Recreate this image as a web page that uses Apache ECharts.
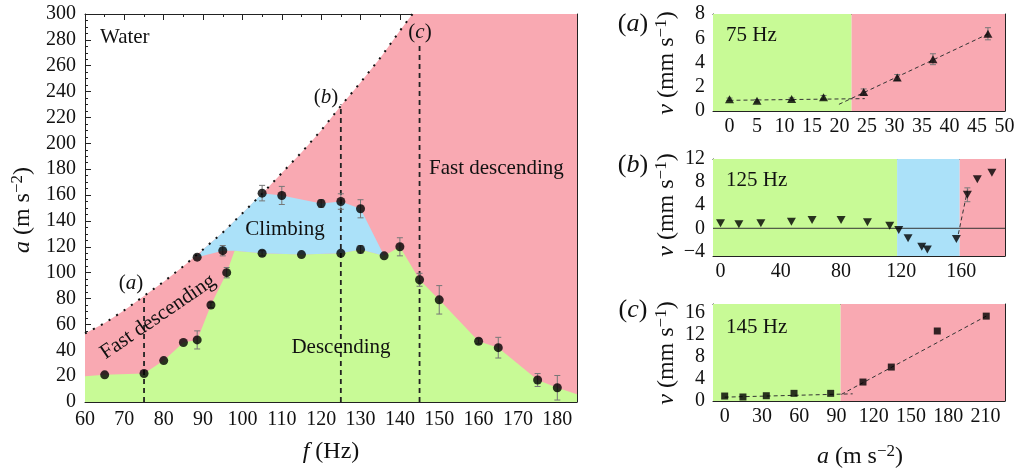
<!DOCTYPE html>
<html><head><meta charset="utf-8">
<script src="https://cdn.jsdelivr.net/npm/echarts@6/dist/echarts.min.js"></script>
<style>html,body{margin:0;padding:0;background:#fff}#c{width:1020px;height:472px}</style>
</head><body><div id="c"></div>
<script>
// ===== Main plot: regime map =====
const waterF = [60, 65, 70, 75, 80, 85, 90, 95, 100, 105, 110, 115, 120, 125, 130, 135, 140, 143.2];
const waterA = [53, 61, 71, 82, 93, 105, 118, 131, 146, 161, 177, 193, 210, 229, 247, 266, 287, 300];
const greenF = [60, 65, 75, 80, 85, 88.5, 92, 96, 98, 105, 115, 125, 130, 136, 140, 145, 150, 160, 165, 175, 180, 185];
const greenA = [20, 21, 22, 32, 46, 48, 75, 100, 117, 115, 114, 115, 118, 113, 120, 94.5, 79, 47, 42, 17, 11, 6];
const blueF = [88.5, 95, 98, 105, 115, 125, 130, 136, 130, 125, 120, 110, 105, 100, 95, 90];
const blueA = [112, 117, 117, 115, 114, 115, 118, 113, 149.4, 155, 153.5, 159.7, 161.5, 146, 131, 118];
const ptsF = [65, 75, 80, 85, 88.5, 92, 96, 105, 115, 125, 130, 136, 140, 145, 150, 160, 165, 175, 180, 88.5, 95, 105, 110, 120, 125, 130];
const ptsA = [21, 22, 32, 46, 48, 75, 100, 115, 114, 115, 118, 113, 120, 94.5, 79, 47, 42, 17, 11, 112, 117, 161.5, 159.7, 153.5, 155, 149.4];
const ptsErr = [0, 0, 0, 0, 7, 2, 4, 2, 0, 0, 3, 0, 7, 5, 11, 2, 8, 5, 9.5, 0, 4, 6, 7, 3, 6, 7];
const cutF = [75, 125, 145];
const cutTop = [82, 230, 276];
const mainXRange = [60, 185];
const mainYRange = [0, 300];
const mainXTicks = [60, 70, 80, 90, 100, 110, 120, 130, 140, 150, 160, 170, 180];
const mainYTicks = [0, 20, 40, 60, 80, 100, 120, 140, 160, 180, 200, 220, 240, 260, 280, 300];

// ===== (a) 75 Hz =====
const aX = [0, 5, 11.3, 17.1, 24.4, 30.5, 37, 47];
const aV = [0.97, 0.85, 0.98, 1.13, 1.57, 2.76, 4.27, 6.37];
const aErr = [0.1, 0.1, 0.1, 0.15, 0.25, 0.25, 0.45, 0.5];
const aFit1 = [[0, 0.88], [24.6, 1.02]];
const aFit2 = [[19.9, 0.55], [47, 6.35]];
const aBound = 22.2;
const aXRange = [-3, 50.1], aYRange = [0, 8];
const aXTicks = [0, 5, 10, 15, 20, 25, 30, 35, 40, 45, 50];
const aYTicks = [0, 2, 4, 6, 8];

// ===== (b) 125 Hz =====
const bX = [0, 12.2, 26.8, 47.1, 60.8, 80.1, 97.6, 112.4, 118.4, 124.6, 133.7, 137.4, 156.7, 164, 170.6, 180.3];
const bV = [0.87, 0.7, 0.87, 1.15, 1.44, 1.44, 1.04, 0.46, -0.3, -1.74, -3.2, -3.66, -1.86, 5.8, 8.5, 9.6];
const bErr = [0, 0, 0, 0, 0, 0, 0, 0, 0, 0, 0, 0, 0, 1.2, 0, 0];
const bFit = [[158, -1.0], [164.4, 7.0]];
const bBound1 = 117.3, bBound2 = 158.9;
const bXRange = [-5, 189], bYRange = [-4.8, 12];
const bXTicks = [0, 40, 80, 120, 160];
const bYTicks = [-4, 0, 4, 8, 12];

// ===== (c) 145 Hz =====
const cX = [0, 14.7, 33.5, 55.8, 85.3, 111.3, 134.1, 171.1, 210.5];
const cV = [0.9, 0.73, 0.96, 1.39, 1.39, 3.44, 6.16, 12.7, 15.4];
const cFit1 = [[0, 0.7], [103, 1.3]];
const cFit2 = [[93.9, 1.2], [210.5, 15.4]];
const cBound = 93.3;
const cXRange = [-9.4, 225.6], cYRange = [0, 17.6];
const cXTicks = [0, 30, 60, 90, 120, 150, 180, 210];
const cYTicks = [0, 4, 8, 12, 16];

const PINK = '#F9A9B2', GREEN = '#C8FA96', BLUE = '#ABE1F9';
const FONT = 'Liberation Serif';

function minorsOf(range, step) {
  const out = [];
  const s = Math.ceil(range[0] / step - 1e-9);
  for (let k = s; k * step <= range[1] + 1e-9; k++) out.push(+(k * step).toFixed(6));
  return out;
}

const xAxes = [], yAxes = [];
function addAxes(grid, dim, range, majors, minorStep, margin) {
  const list = dim === 'x' ? xAxes : yAxes;
  const pos = dim === 'x' ? ['bottom', 'top'] : ['left', 'right'];
  const primary = list.length;
  const minors = minorsOf(range, minorStep);
  pos.forEach((p, i) => {
    list.push({
      type: 'value', gridIndex: grid, position: p, min: range[0], max: range[1],
      axisLine: { show: true, onZero: false, lineStyle: { color: '#222', width: 1 } },
      axisTick: { show: true, inside: true, length: 6, customValues: majors, lineStyle: { color: '#222', width: 1 } },
      axisLabel: { show: i === 0, customValues: majors, margin: margin, fontFamily: FONT, fontSize: 20, color: '#111',
        formatter: v => (v < 0 ? '\u2212' + Math.abs(v) : String(v)) },
      splitLine: { show: false }
    });
    list.push({
      type: 'value', gridIndex: grid, position: p, min: range[0], max: range[1],
      axisLine: { show: false, onZero: false },
      axisTick: { show: true, inside: true, length: 3, customValues: minors, lineStyle: { color: '#222', width: 1 } },
      axisLabel: { show: false }, splitLine: { show: false }
    });
  });
  return primary;
}

const grids = [
  { left: 85, top: 14, width: 492, height: 388 },
  { left: 713, top: 14, width: 292, height: 97 },
  { left: 713, top: 159, width: 292, height: 97 },
  { left: 713, top: 304, width: 292, height: 97 }
];

const mX = addAxes(0, 'x', mainXRange, mainXTicks, 5, 8);
const mY = addAxes(0, 'y', mainYRange, mainYTicks, 5, 9);
const axX = addAxes(1, 'x', aXRange, aXTicks, 1, 6);
const axY = addAxes(1, 'y', aYRange, aYTicks, 0.5, 8);
const bxX = addAxes(2, 'x', bXRange, bXTicks, 10, 6);
const bxY = addAxes(2, 'y', bYRange, bYTicks, 1, 8);
const cxX = addAxes(3, 'x', cXRange, cXTicks, 10, 6);
const cxY = addAxes(3, 'y', cYRange, cYTicks, 1, 8);

const zip = (xs, ys) => xs.map((x, i) => [x, ys[i]]);

function poly(xi, yi, pts, color, z) {
  return {
    type: 'custom', xAxisIndex: xi, yAxisIndex: yi, z: z, silent: true, clip: true,
    data: [pts[0]],
    renderItem: (params, api) => ({
      type: 'polygon', shape: { points: pts.map(p => api.coord(p)) }, style: { fill: color }
    })
  };
}
function rect(xi, yi, x0, x1, yr, color) {
  return poly(xi, yi, [[x0, yr[0]], [x1, yr[0]], [x1, yr[1]], [x0, yr[1]]], color, 1);
}
function errBars(xi, yi, xs, ys, es, color, cap) {
  return {
    type: 'custom', xAxisIndex: xi, yAxisIndex: yi, z: 4, silent: true, clip: false,
    data: xs.map((x, i) => [x, ys[i], es[i]]).filter(d => d[2] > 0),
    renderItem: (params, api) => {
      const x = api.value(0), y = api.value(1), e = api.value(2);
      const lo = api.coord([x, y - e]), hi = api.coord([x, y + e]);
      const st = { stroke: color, lineWidth: 1 };
      return { type: 'group', children: [
        { type: 'line', shape: { x1: lo[0], y1: lo[1], x2: hi[0], y2: hi[1] }, style: st },
        { type: 'line', shape: { x1: lo[0] - cap, y1: lo[1], x2: lo[0] + cap, y2: lo[1] }, style: st },
        { type: 'line', shape: { x1: hi[0] - cap, y1: hi[1], x2: hi[0] + cap, y2: hi[1] }, style: st }
      ] };
    }
  };
}
function fitLine(xi, yi, pts) {
  return {
    type: 'line', xAxisIndex: xi, yAxisIndex: yi, z: 3, silent: true, symbol: 'none', data: pts,
    lineStyle: { color: '#333', width: 1, type: [4, 3] }
  };
}

const pinkPoly = zip(waterF, waterA).concat([[185, 300], [185, 0], [60, 0]]);
const greenPoly = zip(greenF, greenA).concat([[185, 0], [60, 0]]);
const bluePoly = zip(blueF, blueA);

const series = [
  poly(mX, mY, pinkPoly, PINK, 1),
  poly(mX, mY, greenPoly, GREEN, 2),
  poly(mX, mY, bluePoly, BLUE, 2),
  {
    type: 'line', xAxisIndex: mX, yAxisIndex: mY, z: 3, silent: true, symbol: 'none',
    data: zip(waterF, waterA), lineStyle: { color: '#111', width: 2, type: [2, 7] }
  },
  {
    type: 'custom', xAxisIndex: mX, yAxisIndex: mY, z: 3, silent: true,
    data: zip(cutF, cutTop),
    renderItem: (params, api) => {
      const b = api.coord([api.value(0), 0]), t = api.coord([api.value(0), api.value(1)]);
      return { type: 'line', shape: { x1: b[0], y1: b[1], x2: t[0], y2: t[1] },
        style: { stroke: '#222', lineWidth: 1.8, lineDash: [5, 4] } };
    }
  },
  errBars(mX, mY, ptsF, ptsA, ptsErr, '#777', 3),
  {
    type: 'scatter', xAxisIndex: mX, yAxisIndex: mY, z: 5, silent: true, symbol: 'circle', symbolSize: 9,
    data: zip(ptsF, ptsA), itemStyle: { color: '#000' }
  },
  // (a)
  rect(axX, axY, aXRange[0], aBound, aYRange, GREEN),
  rect(axX, axY, aBound, aXRange[1], aYRange, PINK),
  fitLine(axX, axY, aFit1), fitLine(axX, axY, aFit2),
  errBars(axX, axY, aX, aV, aErr, '#777', 3),
  { type: 'scatter', xAxisIndex: axX, yAxisIndex: axY, z: 5, silent: true, symbol: 'triangle', symbolSize: [9, 8],
    data: zip(aX, aV), itemStyle: { color: '#000' } },
  // (b)
  rect(bxX, bxY, bXRange[0], bBound1, bYRange, GREEN),
  rect(bxX, bxY, bBound1, bBound2, bYRange, BLUE),
  rect(bxX, bxY, bBound2, bXRange[1], bYRange, PINK),
  { type: 'line', xAxisIndex: bxX, yAxisIndex: bxY, z: 3, silent: true, symbol: 'none',
    data: [[bXRange[0], 0], [bXRange[1], 0]], lineStyle: { color: '#333', width: 1 } },
  fitLine(bxX, bxY, bFit),
  errBars(bxX, bxY, bX, bV, bErr, '#777', 3),
  { type: 'scatter', xAxisIndex: bxX, yAxisIndex: bxY, z: 5, silent: true, symbol: 'triangle', symbolRotate: 180,
    symbolSize: [9, 8], data: zip(bX, bV), itemStyle: { color: '#000' } },
  // (c)
  rect(cxX, cxY, cXRange[0], cBound, cYRange, GREEN),
  rect(cxX, cxY, cBound, cXRange[1], cYRange, PINK),
  fitLine(cxX, cxY, cFit1), fitLine(cxX, cxY, cFit2),
  { type: 'scatter', xAxisIndex: cxX, yAxisIndex: cxY, z: 5, silent: true, symbol: 'rect', symbolSize: 7,
    data: zip(cX, cV), itemStyle: { color: '#000' } }
];

const richBase = {
  i: { fontStyle: 'italic', fontFamily: FONT, fontSize: 24, lineHeight: 26, verticalAlign: 'bottom' },
  n: { fontFamily: FONT, fontSize: 24, lineHeight: 26, verticalAlign: 'bottom' },
  s: { fontFamily: FONT, fontSize: 17, lineHeight: 15, verticalAlign: 'top' }
};
function txt(x, y, text, size, opts) {
  opts = opts || {};
  return {
    type: 'text', x: x, y: y, rotation: opts.rot || 0, z: 100, silent: true,
    style: {
      text: text, fill: '#111', font: (opts.italic ? 'italic ' : '') + size + 'px "' + FONT + '"',
      align: opts.align || 'center', verticalAlign: 'middle', rich: opts.rich
    }
  };
}
const letterRich = {
  i: { fontStyle: 'italic', fontFamily: FONT, fontSize: 21 },
  n: { fontFamily: FONT, fontSize: 21 }
};
const letterRich2 = {
  i: { fontStyle: 'italic', fontFamily: FONT, fontSize: 26 },
  n: { fontFamily: FONT, fontSize: 26 }
};

const graphic = [
  txt(22, 210, '{i|a}{n| (m s}{s|\u22122}{n|)}', 24, { rot: Math.PI / 2, rich: richBase }),
  txt(331, 451, '{i|f}{n| (Hz)}', 24, { rich: richBase }),
  txt(100, 37, 'Water', 21, { align: 'left' }),
  txt(429, 168, 'Fast descending', 21, { align: 'left' }),
  txt(285, 229, 'Climbing', 21),
  txt(341, 347, 'Descending', 21),
  txt(158, 317, 'Fast descending', 21, { rot: 0.6 }),
  txt(131, 283, '{n|(}{i|a}{n|)}', 21, { rich: letterRich }),
  txt(326, 97, '{n|(}{i|b}{n|)}', 21, { rich: letterRich }),
  txt(420, 32, '{n|(}{i|c}{n|)}', 21, { rich: letterRich }),
  txt(633, 24, '{n|(}{i|a}{n|)}', 26, { rich: letterRich2 }),
  txt(633, 165, '{n|(}{i|b}{n|)}', 26, { rich: letterRich2 }),
  txt(633, 310, '{n|(}{i|c}{n|)}', 26, { rich: letterRich2 }),
  txt(666, 63, '{i|v}{n| (mm s}{s|\u22121}{n|)}', 24, { rot: Math.PI / 2, rich: richBase }),
  txt(666, 205, '{i|v}{n| (mm s}{s|\u22121}{n|)}', 24, { rot: Math.PI / 2, rich: richBase }),
  txt(666, 353, '{i|v}{n| (mm s}{s|\u22121}{n|)}', 24, { rot: Math.PI / 2, rich: richBase }),
  txt(860, 456, '{i|a}{n| (m s}{s|\u22122}{n|)}', 24, { rich: richBase }),
  txt(726, 35, '75 Hz', 21, { align: 'left' }),
  txt(726, 180, '125 Hz', 21, { align: 'left' }),
  txt(726, 327, '145 Hz', 21, { align: 'left' })
];

const chart = echarts.init(document.getElementById('c'), null, { renderer: 'canvas' });
chart.setOption({
  animation: false,
  backgroundColor: '#fff',
  textStyle: { fontFamily: FONT },
  grid: grids,
  xAxis: xAxes,
  yAxis: yAxes,
  series: series,
  graphic: graphic
});
</script>
</body></html>
